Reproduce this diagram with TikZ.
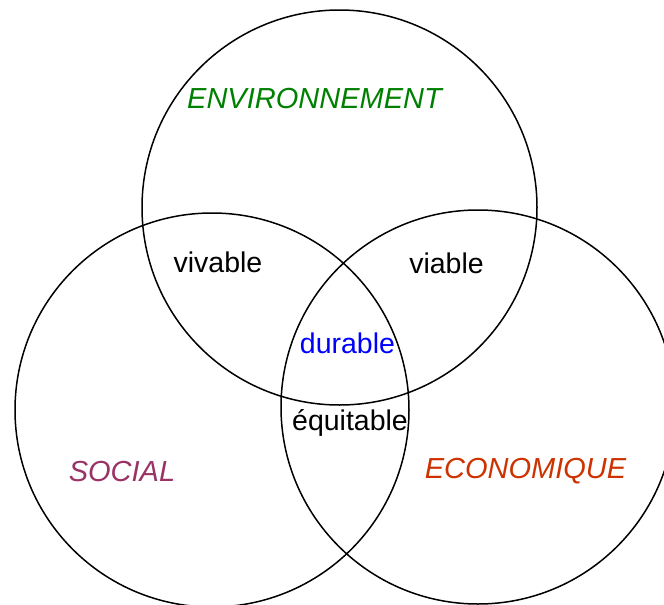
\documentclass[tikz,border=0pt]{standalone}
\usepackage{fontspec}
\setmainfont{Liberation Sans}
\definecolor{envgreen}{RGB}{0,128,0}
\definecolor{socpurple}{RGB}{153,51,102}
\definecolor{ecored}{RGB}{204,51,0}
\definecolor{durblue}{RGB}{0,0,255}
\tikzset{
  ring/.style={circle, draw=black, line width=1.5pt, inner sep=0pt, minimum size=#1},
  pillarlabel/.style={anchor=base, inner sep=0pt, font=\fontsize{29}{34}\selectfont\itshape},
  zonelabel/.style={anchor=base, inner sep=0pt, font=\fontsize{28.5}{33}\selectfont},
}
\begin{document}
\begin{tikzpicture}[x=1pt,y=-1pt]
\useasboundingbox (0,0) rectangle (664,605);
\clip (0,0) rectangle (664,605);
\node[ring=395pt] (env) at (339.5,207.5) {};
\node[ring=394pt] (soc) at (212,410) {};
\node[ring=394pt] (eco) at (478,407) {};
\node[pillarlabel, text=envgreen] (tenv) at (314.5,108) {ENVIRONNEMENT};
\node[pillarlabel, text=socpurple] (tsoc) at (122,481) {SOCIAL};
\node[pillarlabel, text=ecored] (teco) at (525.5,478) {ECONOMIQUE};
\node[zonelabel] (vivable) at (218,272) {vivable};
\node[zonelabel] (viable) at (446.5,273) {viable};
\node[zonelabel, text=durblue] (durable) at (347.5,353) {durable};
\node[zonelabel] (equitable) at (350,430) {équitable};
\end{tikzpicture}
\end{document}
